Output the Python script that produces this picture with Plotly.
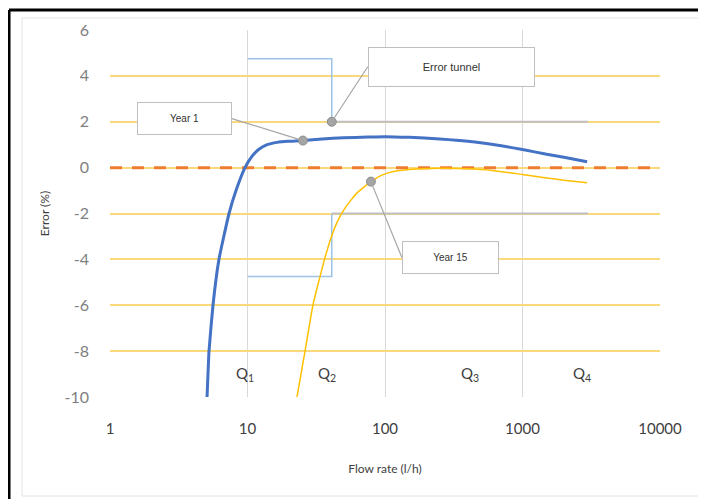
import math
import plotly.graph_objects as go

# ---- data ----
year1_x = [5.08, 5.25, 5.61, 6.2, 7.34, 8.25, 9.59, 10.8, 12.1, 13.9, 16.4, 19.7, 25.3, 35, 50, 75, 100, 150, 250, 400, 700, 1000, 1500, 2000, 2950]
year1_y = [-10, -8, -6, -4, -2, -1, 0, 0.5, 0.8, 1.0, 1.1, 1.15, 1.18, 1.25, 1.3, 1.33, 1.35, 1.32, 1.25, 1.15, 0.95, 0.79, 0.58, 0.45, 0.26]

year15_x = [22.9, 26.2, 29.9, 32.85, 36.3, 40.8, 45.5, 52.0, 62.6, 79, 95, 115, 150, 250, 400, 600, 1000, 1500, 2000, 2950]
year15_y = [-10, -8, -6, -5, -4, -3, -2.3, -1.7, -1.1, -0.61, -0.33, -0.17, -0.08, -0.03, -0.05, -0.12, -0.3, -0.45, -0.55, -0.66]

ref_x = [1, 10000]
ref_y = [0, 0]

tunnel_wide_x = [10, 41, 41]
tunnel_wide_upper = [4.75, 4.75, 2]
tunnel_wide_lower = [-4.75, -4.75, -2]
tunnel_narrow_x = [41, 3000]
tunnel_narrow_upper = [2, 2]
tunnel_narrow_lower = [-2, -2]

callout_labels = ["Year 1", "Error tunnel", "Year 15"]
callout_x = [25.3, 41, 79]
callout_y = [1.18, 2.0, -0.61]

q_labels = ["Q<sub>1</sub>", "Q<sub>2</sub>", "Q<sub>3</sub>", "Q<sub>4</sub>"]
q_x = [9.6, 37.9, 415, 2713]
q_y = [-9.0, -9.0, -9.0, -9.0]

y_ticks = [6, 4, 2, 0, -2, -4, -6, -8, -10]
x_ticks = [1, 10, 100, 1000, 10000]

fig = go.Figure()

blue_light = "#9DC3E6"
grey_t = "#BFBFBF"
for yy in (tunnel_wide_upper, tunnel_wide_lower):
    fig.add_trace(go.Scatter(x=tunnel_wide_x, y=yy, mode="lines",
                             line=dict(color=blue_light, width=1.5), showlegend=False, hoverinfo="skip"))
for yy in (tunnel_narrow_upper, tunnel_narrow_lower):
    fig.add_trace(go.Scatter(x=tunnel_narrow_x, y=yy, mode="lines",
                             line=dict(color=grey_t, width=2), showlegend=False, hoverinfo="skip"))

fig.add_trace(go.Scatter(x=ref_x, y=ref_y, mode="lines",
                         line=dict(color="#ED7D31", width=3, dash="12px,10px"), showlegend=False))
fig.add_trace(go.Scatter(x=year15_x, y=year15_y, mode="lines", line_shape="spline",
                         line=dict(color="#FFC000", width=1.5, smoothing=0.4), showlegend=False, name="Year 15"))
fig.add_trace(go.Scatter(x=year1_x, y=year1_y, mode="lines", line_shape="spline",
                         line=dict(color="#4472C4", width=3, smoothing=0.4), showlegend=False, name="Year 1"))
fig.add_trace(go.Scatter(x=callout_x, y=callout_y, mode="markers",
                         marker=dict(color="#A5A5A5", size=9, line=dict(color="#8C8C8C", width=1)),
                         showlegend=False))

# callouts (box offsets in pixels relative to the marked point)
offsets = [(-71, -22, "right", 93, 31, 10), (36, -55, "left", 165, 38, 11), (31, 76, "left", 95, 31, 10)]
for lab, cx, cy, (ax, ay, xa, w, h, fs) in zip(callout_labels, callout_x, callout_y, offsets):
    fig.add_annotation(x=math.log10(cx), y=cy, xref="x", yref="y", text=lab, showarrow=True,
                       ax=ax, ay=ay, arrowhead=0, arrowwidth=1.2, arrowcolor="#A6A6A6",
                       xanchor=xa, yanchor="middle", width=w, height=h,
                       bgcolor="white", bordercolor="#BFBFBF", borderwidth=1, borderpad=0,
                       font=dict(family="Liberation Sans", size=fs, color="#333333"))

for lab, qx, qy in zip(q_labels, q_x, q_y):
    fig.add_annotation(x=math.log10(qx), y=qy, xref="x", yref="y", text=lab, showarrow=False,
                       font=dict(family="Lato", size=15, color="#404040"))

# frames
fig.add_shape(type="rect", xref="paper", yref="paper", x0=-0.16, x1=1.0782, y0=-0.2698, y1=1.0327,
              line=dict(color="#E3E3E3", width=1), layer="below")
fig.add_shape(type="line", xref="paper", yref="paper", x0=-0.1836, x1=-0.1836, y0=-0.3, y1=1.0545,
              line=dict(color="black", width=3))
fig.add_shape(type="line", xref="paper", yref="paper", x0=-0.1836, x1=1.1, y0=1.0545, y1=1.0545,
              line=dict(color="black", width=3))

fig.update_layout(
    width=698, height=491,
    margin=dict(l=102, r=46, t=22, b=102),
    paper_bgcolor="white", plot_bgcolor="white",
    font=dict(family="Lato", color="#595959"),
    xaxis=dict(type="log", range=[0, 4], tickvals=x_ticks, ticktext=[str(v) for v in x_ticks],
               showgrid=True, gridcolor="#D9D9D9", gridwidth=1, zeroline=False, showline=False,
               tickfont=dict(size=15, color="#404040"), ticks="", ticklabelstandoff=21,
               title=dict(text="Flow rate (l/h)", font=dict(size=12, color="#404040"), standoff=28)),
    yaxis=dict(range=[-10, 6], tickvals=y_ticks, ticktext=[str(v) for v in y_ticks],
               showgrid=True, gridcolor="#F9D97C", gridwidth=2,
               zeroline=False, showline=False, ticks="", ticklabelstandoff=20,
               tickfont=dict(size=16, color="#808080"),
               title=dict(text="Error (%)", font=dict(size=12, color="#404040"), standoff=12)),
)

fig.write_html("out.html")
